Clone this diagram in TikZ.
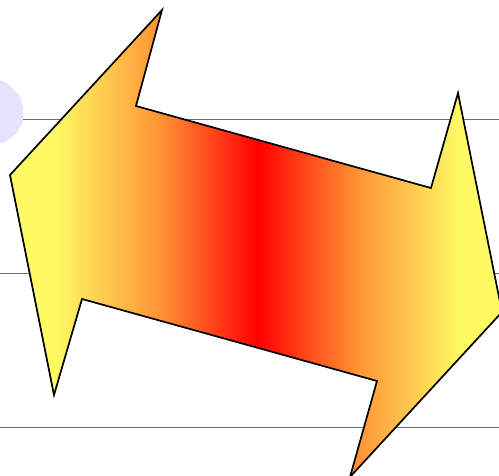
\documentclass[tikz,border=0pt]{standalone}
\usetikzlibrary{calc}
\definecolor{arrowyellow}{RGB}{255,250,100}
\definecolor{arroworange}{RGB}{255,150,55}
\definecolor{arrowred}{RGB}{255,0,0}
\definecolor{lavender}{RGB}{228,228,255}
\definecolor{rulegray}{RGB}{110,110,110}
\pgfdeclarehorizontalshading{arrowshade}{100bp}{color(0bp)=(arrowyellow); color(29.6bp)=(arrowyellow); color(40bp)=(arroworange); color(50.2bp)=(arrowred); color(60.5bp)=(arroworange); color(70.7bp)=(arrowyellow); color(100bp)=(arrowyellow)}
\tikzset{
  rule/.style={draw=rulegray, line width=0.9pt},
  bigarrow/.style={shading=arrowshade, draw=black, line width=1.7pt, line join=miter},
  blob/.style={fill=lavender, draw=none}
}
\begin{document}
\begin{tikzpicture}[x=1pt,y=-1pt]
\useasboundingbox (0,0) rectangle (499,476);
\clip (0,0) rectangle (499,476);
\fill[white] (0,0) rectangle (499,476);
% rules
\draw[rule] (0,119) -- (499,119);
\draw[rule] (0,273) -- (499,273);
\draw[rule] (0,427) -- (499,427);
% lavender blob
\path[blob] (-10,79) -- (0,80) -- (8,84) -- (20,96) -- (23,108) -- (23,122) -- (16,134) -- (5,142) -- (-10,146) -- cycle;
% double arrow
\shadedraw[bigarrow] (10,175) -- (162,10) -- (136,106) -- (431,188) -- (458,93) -- (502,312) -- (350,477) -- (377,381) -- (82,299) -- (54,395) -- cycle;
\end{tikzpicture}
\end{document}
